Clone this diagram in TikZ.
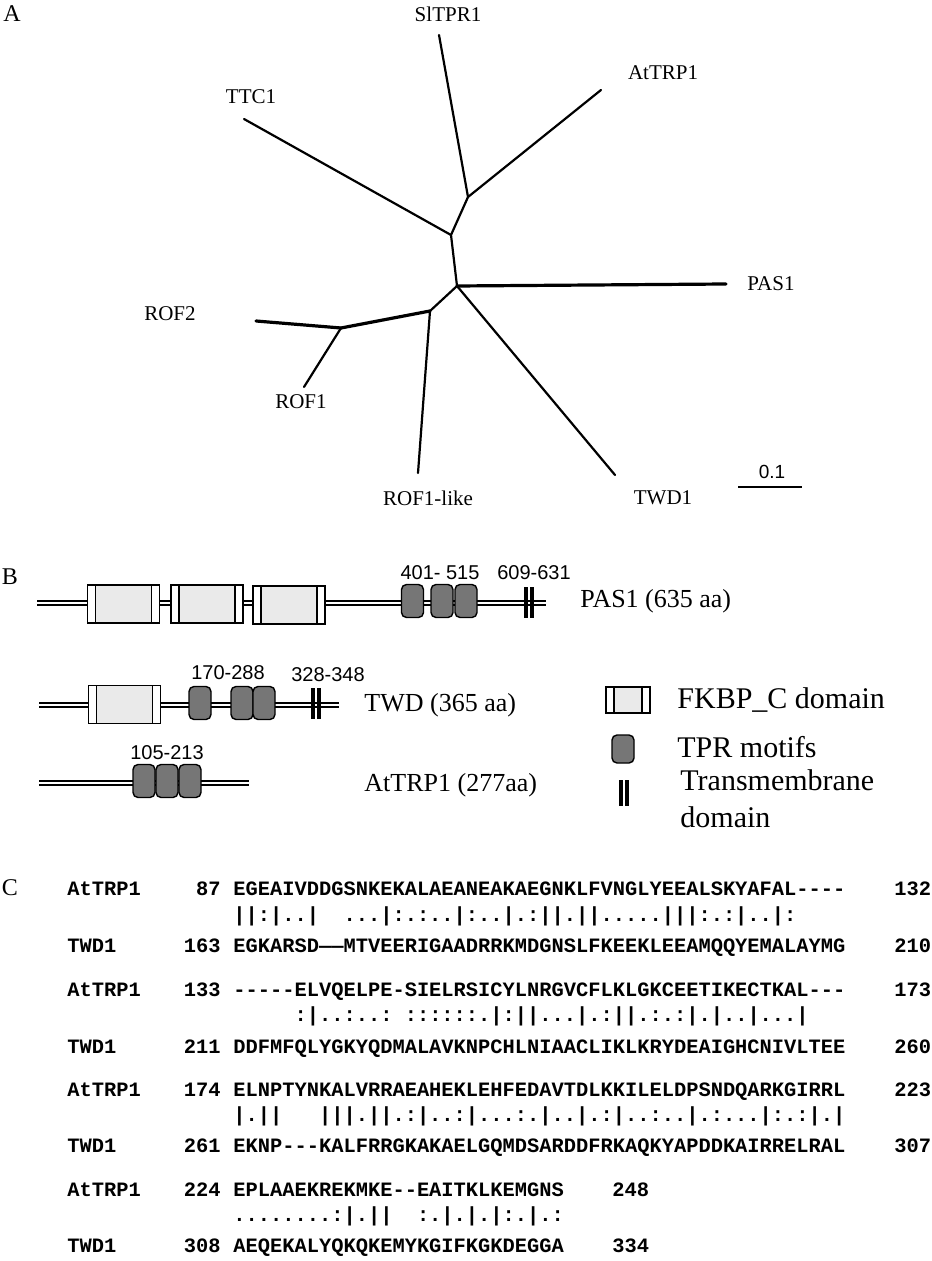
\documentclass[tikz,border=0pt]{standalone}
\usepackage{fontspec}
\setmainfont{Liberation Serif}
\newfontfamily\seqfont{Liberation Mono}
\newfontfamily\numfont{Liberation Sans}
\definecolor{grisfk}{RGB}{234,234,234}
\definecolor{gristpr}{RGB}{118,118,118}

\begin{document}
\begin{tikzpicture}[
        x=0.5pt, y=-0.5pt,
        every node/.style={inner sep=0pt},
        rama/.style={line width=1.1pt, line cap=round, line join=round},
        gruesa/.style={line width=1.6pt, line cap=round},
        hoja/.style={font=\fontsize{10.5}{12}\selectfont},
        letra/.style={font=\fontsize{12}{14}\selectfont},
        prot/.style={font=\fontsize{13}{15}\selectfont, anchor=west},
        leyenda/.style={font=\fontsize{15}{18.5}\selectfont, anchor=west, align=left},
        rango/.style={font=\numfont\fontsize{10}{12}\selectfont},
        eje/.style={line width=1pt, double=white, double distance=1pt},
        fkbp/.style={
            draw, line width=0.7pt, fill=white,
            minimum width=36pt, minimum height=19pt,
            path picture={
                \fill[grisfk] ([xshift=4pt]path picture bounding box.south west)
                    rectangle ([xshift=-4pt]path picture bounding box.north east);
                \draw[line width=0.7pt] ([xshift=4pt]path picture bounding box.south west)
                    -- ([xshift=4pt]path picture bounding box.north west);
                \draw[line width=0.7pt] ([xshift=-4pt]path picture bounding box.south east)
                    -- ([xshift=-4pt]path picture bounding box.north east);
            }
        },
        tpr/.style={draw, line width=0.7pt, fill=gristpr, rounded corners=2.5pt,
            minimum width=11pt, minimum height=16.5pt},
        tmbar/.style={fill=black, minimum width=1.6pt, minimum height=15.5pt},
        sec/.style={font=\seqfont\bfseries\fontsize{10.2}{12}\selectfont, anchor=base west},
        secnum/.style={font=\seqfont\bfseries\fontsize{10.2}{12}\selectfont, anchor=base east}
    ]

    \path[use as bounding box, fill=white] (0,0) rectangle (931,1261);

    % Paneles
    \node[letra] (pa) at (12,14) {A};
    \node[letra] (pb) at (10,577) {B};
    \node[letra] (pc) at (10,888) {C};

    % Arbol
    \coordinate (r) at (457,286);
    \coordinate (n1) at (468,197);
    \coordinate (n2) at (451,235);
    \coordinate (n4) at (430,311);
    \coordinate (n5) at (341,328);
    \coordinate (sl) at (439,35);
    \coordinate (at) at (601,90);
    \coordinate (tt) at (244,119);
    \coordinate (ps) at (726,284);
    \coordinate (r2) at (256,321);
    \coordinate (r1) at (304,387);
    \coordinate (rl) at (418,473);
    \coordinate (tw) at (615,475);

    \draw[rama] (r) -- (n2);
    \draw[rama] (n2) -- (n1);
    \draw[rama] (n1) -- (sl);
    \draw[rama] (n1) -- (at);
    \draw[rama] (n2) -- (tt);
    \draw[gruesa] (r) -- (ps);
    \draw[rama] (r) -- (n4);
    \draw[gruesa] (n4) -- (n5);
    \draw[gruesa] (n5) -- (r2);
    \draw[rama] (n5) -- (r1);
    \draw[rama] (n4) -- (rl);
    \draw[rama] (r) -- (tw);

    \node[hoja] (lsl) at (448,14) {SlTPR1};
    \node[hoja] (lat) at (663,73) {AtTRP1};
    \node[hoja] (ltt) at (251,97) {TTC1};
    \node[hoja, anchor=west] (lps) at (747,284) {PAS1};
    \node[hoja] (lr2) at (170,314) {ROF2};
    \node[hoja] (lr1) at (301,402) {ROF1};
    \node[hoja] (lrl) at (428,498) {ROF1-like};
    \node[hoja] (ltw) at (663,498) {TWD1};

    % Escala
    \coordinate (e0) at (738,487);
    \coordinate (e1) at (802,487);
    \draw[line width=1pt] (e0) -- (e1);
    \node[font=\numfont\fontsize{9.5}{11}\selectfont] (esc) at (772,472) {0.1};

    % PAS1
    \coordinate (p0) at (37,603);
    \coordinate (p1) at (546,603);
    \draw[eje] (p0) -- (p1);
    \node[fkbp] (f1) at (123.5,604) {};
    \node[fkbp] (f2) at (207,604) {};
    \node[fkbp] (f3) at (289,605) {};
    \node[tpr] (t1) at (412.5,601) {};
    \node[tpr] (t2) at (442,601) {};
    \node[tpr] (t3) at (466,601) {};
    \node[tmbar] (m1a) at (526,602) {};
    \node[tmbar] (m1b) at (532,602) {};
    \node[rango] (g1) at (440,573) {401- 515};
    \node[rango] (g2) at (534,573) {609-631};
    \node[prot] (lpas) at (580,601) {PAS1 (635 aa)};

    % TWD
    \coordinate (w0) at (39,705);
    \coordinate (w1) at (339,705);
    \draw[eje] (w0) -- (w1);
    \node[fkbp] (f4) at (124.5,704.5) {};
    \node[tpr] (t4) at (200,703) {};
    \node[tpr] (t5) at (242,703) {};
    \node[tpr] (t6) at (264,703) {};
    \node[tmbar] (m2a) at (313,703) {};
    \node[tmbar] (m2b) at (319,703) {};
    \node[rango] (g3) at (228,673) {170-288};
    \node[rango] (g4) at (328,675) {328-348};
    \node[prot] (ltwd) at (364,705) {TWD (365 aa)};

    % AtTRP1
    \coordinate (a0) at (39,783);
    \coordinate (a1) at (249,783);
    \draw[eje] (a0) -- (a1);
    \node[tpr] (t7) at (144,781) {};
    \node[tpr] (t8) at (167,781) {};
    \node[tpr] (t9) at (190,781) {};
    \node[rango] (g5) at (167,753) {105-213};
    \node[prot] (latr) at (364,785) {AtTRP1 (277aa)};

    % Leyenda
    \node[fkbp, minimum width=22pt, minimum height=13pt] (lf) at (628,700) {};
    \node[tpr, minimum height=14pt] (lt) at (623,749) {};
    \node[tmbar, minimum height=13pt] (lm1) at (621,793) {};
    \node[tmbar, minimum height=13pt] (lm2) at (627,793) {};
    \node[leyenda] (tf) at (677,700) {FKBP\_C domain};
    \node[leyenda] (ttp) at (677,747) {TPR motifs};
    \node[leyenda] (ttm) at (680,799) {Transmembrane\\domain};

    % Alineamiento
    \node[sec] (s1a) at (67,895) {AtTRP1};
    \node[secnum] (i1a) at (221,895) {87};
    \node[sec] (q1a) at (233,895) {EGEAIVDDGSNKEKALAEANEAKAEGNKLFVNGLYEEALSKYAFAL-{}-{}-{}-};
    \node[sec] (e1a) at (894,895) {132};
    \node[sec] (c1) at (233,921) {||:|..|~~...|:.:..|:..|.:||.||.....|||:.:|..|:};
    \node[sec] (s1b) at (67,952) {TWD1};
    \node[secnum] (i1b) at (221,952) {163};
    \node[sec] (q1b) at (233,952) {EGKARSD——MTVEERIGAADRRKMDGNSLFKEEKLEEAMQQYEMALAYMG};
    \node[sec] (e1b) at (894,952) {210};

    \node[sec] (s2a) at (67,996) {AtTRP1};
    \node[secnum] (i2a) at (221,996) {133};
    \node[sec] (q2a) at (233,996) {-{}-{}-{}-{}-ELVQELPE-SIELRSICYLNRGVCFLKLGKCEETIKECTKAL-{}-{}-};
    \node[sec] (e2a) at (894,996) {173};
    \node[sec] (c2) at (233,1021) {~~~~~:|..:..:~::::::.|:||...|.:||.:.:|.|..|...|};
    \node[sec] (s2b) at (67,1053) {TWD1};
    \node[secnum] (i2b) at (221,1053) {211};
    \node[sec] (q2b) at (233,1053) {DDFMFQLYGKYQDMALAVKNPCHLNIAACLIKLKRYDEAIGHCNIVLTEE};
    \node[sec] (e2b) at (894,1053) {260};

    \node[sec] (s3a) at (67,1096) {AtTRP1};
    \node[secnum] (i3a) at (221,1096) {174};
    \node[sec] (q3a) at (233,1096) {ELNPTYNKALVRRAEAHEKLEHFEDAVTDLKKILELDPSNDQARKGIRRL};
    \node[sec] (e3a) at (894,1096) {223};
    \node[sec] (c3) at (233,1121) {|.||~~~|||.||.:|..:|...:.|..|.:|..:..|.:...|:.:|.|};
    \node[sec] (s3b) at (67,1152) {TWD1};
    \node[secnum] (i3b) at (221,1152) {261};
    \node[sec] (q3b) at (233,1152) {EKNP-{}-{}-KALFRRGKAKAELGQMDSARDDFRKAQKYAPDDKAIRRELRAL};
    \node[sec] (e3b) at (894,1152) {307};

    \node[sec] (s4a) at (67,1196) {AtTRP1};
    \node[secnum] (i4a) at (221,1196) {224};
    \node[sec] (q4a) at (233,1196) {EPLAAEKREKMKE-{}-EAITKLKEMGNS};
    \node[sec] (e4a) at (612,1196) {248};
    \node[sec] (c4) at (233,1221) {........:|.||~~:.|.|.|:.|.:};
    \node[sec] (s4b) at (67,1252) {TWD1};
    \node[secnum] (i4b) at (221,1252) {308};
    \node[sec] (q4b) at (233,1252) {AEQEKALYQKQKEMYKGIFKGKDEGGA};
    \node[sec] (e4b) at (612,1252) {334};

\end{tikzpicture}
\end{document}
